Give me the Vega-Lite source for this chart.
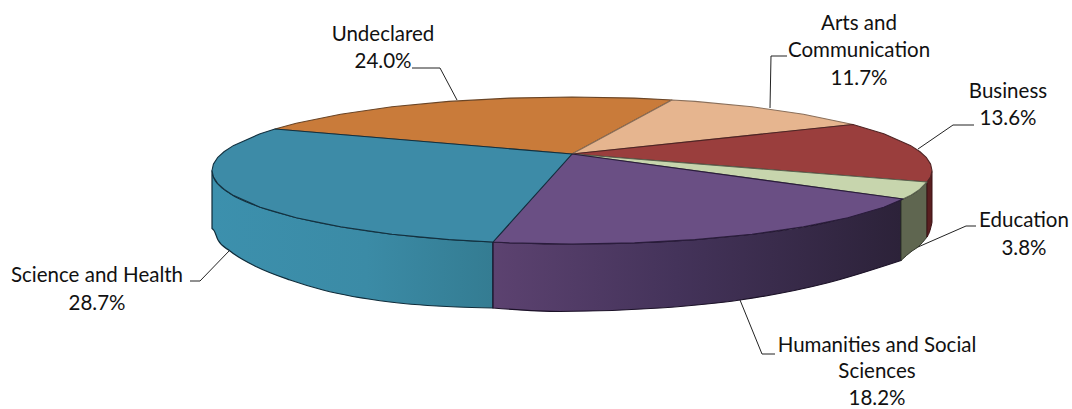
{"$schema":"https://vega.github.io/schema/vega-lite/v6.json","autosize":{"type":"none"},"width":1072,"height":409,"padding":0,"background":"white","view":{"stroke":null},
"datasets":{
"top":[
{"s":"Undeclared","k":0,"X":0,"Y":16.5},{"s":"Undeclared","k":1,"X":-297,"Y":41.5},{"s":"Undeclared","k":2,"X":-275.8,"Y":47.2},{"s":"Undeclared","k":3,"X":-231.4,"Y":56.3},{"s":"Undeclared","k":4,"X":-180,"Y":63.7},{"s":"Undeclared","k":5,"X":-123.1,"Y":69.1},{"s":"Undeclared","k":6,"X":-62.5,"Y":72.4},{"s":"Undeclared","k":7,"X":0,"Y":73.5},{"s":"Undeclared","k":8,"X":62.5,"Y":72.4},{"s":"Undeclared","k":9,"X":100,"Y":70.5},{"s":"Undeclared","k":10,"X":0,"Y":16.5},
{"s":"Arts and Communication","k":0,"X":0,"Y":16.5},{"s":"Arts and Communication","k":1,"X":100,"Y":70.5},{"s":"Arts and Communication","k":2,"X":123.1,"Y":69.1},{"s":"Arts and Communication","k":3,"X":180,"Y":63.7},{"s":"Arts and Communication","k":4,"X":231.4,"Y":56.3},{"s":"Arts and Communication","k":5,"X":281,"Y":46},{"s":"Arts and Communication","k":6,"X":0,"Y":16.5},
{"s":"Business","k":0,"X":0,"Y":16.5},{"s":"Business","k":1,"X":281,"Y":46},{"s":"Business","k":2,"X":311.8,"Y":36.8},{"s":"Business","k":3,"X":338.3,"Y":25.1},{"s":"Business","k":4,"X":347.7,"Y":19},{"s":"Business","k":5,"X":354.5,"Y":12.8},{"s":"Business","k":6,"X":358.6,"Y":6.4},{"s":"Business","k":7,"X":360,"Y":0},{"s":"Business","k":8,"X":358.6,"Y":-6.4},{"s":"Business","k":9,"X":355,"Y":-11.5},{"s":"Business","k":10,"X":0,"Y":16.5},
{"s":"Education","k":0,"X":0,"Y":16.5},{"s":"Education","k":1,"X":355,"Y":-11.5},{"s":"Education","k":2,"X":347.7,"Y":-19},{"s":"Education","k":3,"X":338.3,"Y":-25.1},{"s":"Education","k":4,"X":331,"Y":-28.5},{"s":"Education","k":5,"X":0,"Y":16.5},
{"s":"Humanities and Social Sciences","k":0,"X":0,"Y":16.5},{"s":"Humanities and Social Sciences","k":1,"X":331,"Y":-28.5},{"s":"Humanities and Social Sciences","k":2,"X":311.8,"Y":-36.8},{"s":"Humanities and Social Sciences","k":3,"X":275.8,"Y":-47.2},{"s":"Humanities and Social Sciences","k":4,"X":231.4,"Y":-56.3},{"s":"Humanities and Social Sciences","k":5,"X":180,"Y":-63.7},{"s":"Humanities and Social Sciences","k":6,"X":123.1,"Y":-69.1},{"s":"Humanities and Social Sciences","k":7,"X":62.5,"Y":-72.4},{"s":"Humanities and Social Sciences","k":8,"X":0,"Y":-73.5},{"s":"Humanities and Social Sciences","k":9,"X":-62.5,"Y":-72.4},{"s":"Humanities and Social Sciences","k":10,"X":-79,"Y":-71.5},{"s":"Humanities and Social Sciences","k":11,"X":0,"Y":16.5},
{"s":"Science and Health","k":0,"X":0,"Y":16.5},{"s":"Science and Health","k":1,"X":-79,"Y":-71.5},{"s":"Science and Health","k":2,"X":-123.1,"Y":-69.1},{"s":"Science and Health","k":3,"X":-180,"Y":-63.7},{"s":"Science and Health","k":4,"X":-231.4,"Y":-56.3},{"s":"Science and Health","k":5,"X":-275.8,"Y":-47.2},{"s":"Science and Health","k":6,"X":-311.8,"Y":-36.8},{"s":"Science and Health","k":7,"X":-338.3,"Y":-25.1},{"s":"Science and Health","k":8,"X":-347.7,"Y":-19},{"s":"Science and Health","k":9,"X":-354.5,"Y":-12.8},{"s":"Science and Health","k":10,"X":-358.6,"Y":-6.4},{"s":"Science and Health","k":11,"X":-360,"Y":0},{"s":"Science and Health","k":12,"X":-358.6,"Y":6.4},{"s":"Science and Health","k":13,"X":-354.5,"Y":12.8},{"s":"Science and Health","k":14,"X":-347.7,"Y":19},{"s":"Science and Health","k":15,"X":-338.3,"Y":25.1},{"s":"Science and Health","k":16,"X":-311.8,"Y":36.8},{"s":"Science and Health","k":17,"X":-297,"Y":41.5},{"s":"Science and Health","k":18,"X":0,"Y":16.5}
],
"side":[
{"s":"Science and Health","X":-360,"T":0,"B":-58},{"s":"Science and Health","X":-358,"T":-7.5,"B":-60},{"s":"Science and Health","X":-354,"T":-13.5,"B":-69.5},{"s":"Science and Health","X":-342,"T":-23,"B":-80.5},{"s":"Science and Health","X":-315,"T":-35.5,"B":-96.5},{"s":"Science and Health","X":-282,"T":-45.5,"B":-109.5},{"s":"Science and Health","X":-249,"T":-53,"B":-119.5},{"s":"Science and Health","X":-182,"T":-63.5,"B":-131.5},{"s":"Science and Health","X":-115,"T":-69.5,"B":-136.5},{"s":"Science and Health","X":-79,"T":-71.5,"B":-137.5},
{"s":"Humanities and Social Sciences","X":-79,"T":-71.5,"B":-137.5},{"s":"Humanities and Social Sciences","X":-12,"T":-73.5,"B":-141},{"s":"Humanities and Social Sciences","X":88,"T":-71.3,"B":-137.5},{"s":"Humanities and Social Sciences","X":168,"T":-65,"B":-129.5},{"s":"Humanities and Social Sciences","X":255,"T":-51.9,"B":-112.5},{"s":"Humanities and Social Sciences","X":329,"T":-29.5,"B":-90},
{"s":"Education","X":329,"T":-29.5,"B":-90},{"s":"Education","X":340,"T":-24.2,"B":-80.5},{"s":"Education","X":346,"T":-20.3,"B":-76.5},{"s":"Education","X":355,"T":-11.5,"B":-66.5},
{"s":"Business","X":355,"T":-11.5,"B":-66.5},{"s":"Business","X":358,"T":-6,"B":-60},{"s":"Business","X":360,"T":-1,"B":-52}
],
"labels":[
{"t":"Undeclared","X":-189,"Y":137.5},{"t":"24.0%","X":-189,"Y":110.5},
{"t":"Arts and","X":287,"Y":148.5},{"t":"Communication","X":287,"Y":121.5},{"t":"11.7%","X":287,"Y":93.5},
{"t":"Business","X":436,"Y":80.5},{"t":"13.6%","X":436,"Y":53.5},
{"t":"Education","X":452,"Y":-48.5},{"t":"3.8%","X":452,"Y":-76.5},
{"t":"Science and Health","X":-475,"Y":-103.5},{"t":"28.7%","X":-475,"Y":-131.5},
{"t":"Humanities and Social","X":305,"Y":-173.5},{"t":"Sciences","X":305,"Y":-200},{"t":"18.2%","X":305,"Y":-226.5}
],
"leaders":[
{"s":"U","k":0,"X":-160,"Y":102.5},{"s":"U","k":1,"X":-132,"Y":102.5},{"s":"U","k":2,"X":-115,"Y":70.5},
{"s":"A","k":0,"X":215,"Y":114.5},{"s":"A","k":1,"X":199,"Y":114.5},{"s":"A","k":2,"X":198,"Y":62.5},
{"s":"B","k":0,"X":402,"Y":45.5},{"s":"B","k":1,"X":381,"Y":45.5},{"s":"B","k":2,"X":346,"Y":21.5},
{"s":"E","k":0,"X":404,"Y":-55.5},{"s":"E","k":1,"X":394,"Y":-55.5},{"s":"E","k":2,"X":346,"Y":-76.5},
{"s":"S","k":0,"X":-382,"Y":-110.5},{"s":"S","k":1,"X":-372,"Y":-110.5},{"s":"S","k":2,"X":-342,"Y":-79.5},
{"s":"H","k":0,"X":203,"Y":-183.5},{"s":"H","k":1,"X":190,"Y":-183.5},{"s":"H","k":2,"X":168,"Y":-129.5}
]},
"encoding":{
"x":{"field":"X","type":"quantitative","axis":null,"scale":{"domain":[-572,500],"nice":false,"zero":false}},
"y":{"field":"Y","type":"quantitative","axis":null,"scale":{"domain":[-238.5,170.5],"nice":false,"zero":false}}},
"layer":[
{"data":{"name":"leaders"},"mark":{"type":"line","stroke":"#222222","strokeWidth":1,"clip":false},"encoding":{"detail":{"field":"s"},"order":{"field":"k"}}},
{"data":{"name":"side"},"transform":[{"filter":"datum.s==='Science and Health'"}],"mark":{"type":"area","orient":"vertical","interpolate":"monotone","stroke":"#0f2c3a","strokeWidth":1.2,"fill":{"gradient":"linear","x1":0,"x2":1,"y1":0,"y2":0,"stops":[{"offset":0,"color":"#3c90ad"},{"offset":0.55,"color":"#3b8ba6"},{"offset":1,"color":"#347c92"}]}},"encoding":{"y":{"field":"B","type":"quantitative"},"y2":{"field":"T"}}},
{"data":{"name":"side"},"transform":[{"filter":"datum.s==='Humanities and Social Sciences'"}],"mark":{"type":"area","orient":"vertical","interpolate":"monotone","stroke":"#1c1228","strokeWidth":1.2,"fill":{"gradient":"linear","x1":0,"x2":1,"y1":0,"y2":0,"stops":[{"offset":0,"color":"#5c4270"},{"offset":0.45,"color":"#44335a"},{"offset":1,"color":"#2c2239"}]}},"encoding":{"y":{"field":"B","type":"quantitative"},"y2":{"field":"T"}}},
{"data":{"name":"side"},"transform":[{"filter":"datum.s==='Education'"}],"mark":{"type":"area","orient":"vertical","interpolate":"monotone","stroke":"#2f3428","strokeWidth":1,"fill":"#5f6650"},"encoding":{"y":{"field":"B","type":"quantitative"},"y2":{"field":"T"}}},
{"data":{"name":"side"},"transform":[{"filter":"datum.s==='Business'"}],"mark":{"type":"area","orient":"vertical","interpolate":"monotone","stroke":"#3a1214","strokeWidth":1,"fill":"#5a1f20"},"encoding":{"y":{"field":"B","type":"quantitative"},"y2":{"field":"T"}}},
{"data":{"name":"top"},"mark":{"type":"line","strokeJoin":"round","strokeWidth":1.1},"encoding":{"order":{"field":"k"},
"fill":{"field":"s","type":"nominal","legend":null,"scale":{"domain":["Undeclared","Arts and Communication","Business","Education","Humanities and Social Sciences","Science and Health"],"range":["#c97b3a","#e6b58f","#9a3e3d","#c7d5ad","#6a4f84","#3d8ba7"]}},
"stroke":{"field":"s","type":"nominal","legend":null,"scale":{"domain":["Undeclared","Arts and Communication","Business","Education","Humanities and Social Sciences","Science and Health"],"range":["#6a4526","#8a6f5a","#4f2424","#5d6350","#2a1c3c","#12303f"]}}}},
{"data":{"name":"labels"},"mark":{"type":"text","font":"Lato","fontSize":20.5,"color":"#111111","align":"center","baseline":"middle","dy":1.5},"encoding":{"text":{"field":"t"}}}
]}
